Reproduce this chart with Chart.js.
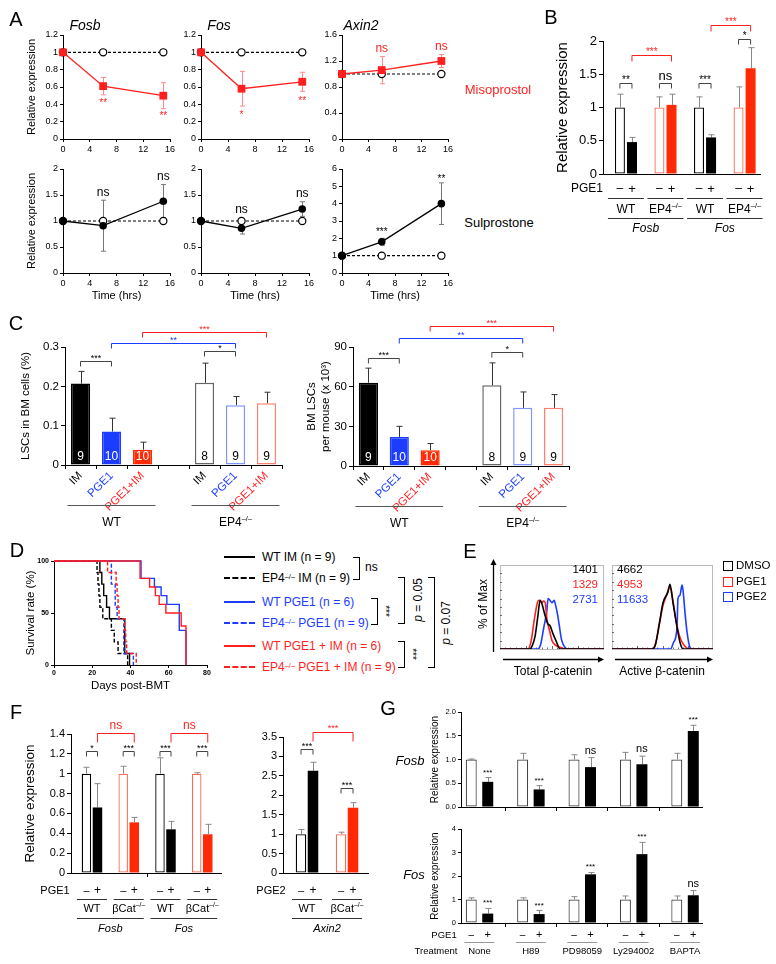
<!DOCTYPE html>
<html>
<head>
<meta charset="utf-8">
<script src="https://cdn.jsdelivr.net/npm/chart.js@4.4.1/dist/chart.umd.min.js"></script>
<style>
  body { margin: 0; background: #fff; }
  #fig { position: relative; width: 776px; height: 964px; overflow: hidden; font-family: 'Liberation Sans', Arial, sans-serif; color: #000; }
  canvas { position: absolute; }
  .t { position: absolute; white-space: nowrap; line-height: 1; transform: translate(-50%, -50%); }
  sup { font-size: 0.62em; vertical-align: 0.45em; line-height: 0; }
  .br { position: absolute; border: 1.5px solid #000; border-left: none; box-sizing: border-box; }
</style>
</head>
<body>
<div id="fig"></div>
<script>
// ---- data ----
// A: time course (hrs), relative expression
const hours = [0, 6, 15];
const ctrlA = [1, 1, 1];
const misoFosb = [1, 0.61, 0.5],   misoFosbErr = [0, 0.1, 0.15];
const misoFos = [1, 0.58, 0.66],   misoFosErr = [0, 0.2, 0.11];
const misoAxin2 = [1, 1.06, 1.2],  misoAxin2Err = [0, 0.21, 0.1];
const sulFosb = [1, 0.91, 1.38],   sulFosbErr = [0, 0.49, 0.32];
const sulFos = [1, 0.86, 1.23],    sulFosErr = [0, 0.11, 0.14];
const sulAxin2 = [1, 1.8, 4.0],    sulAxin2Err = [0, 0.2, 1.2];

// B
const bGroups = ['WT', 'EP4^{–/–}', 'WT', 'EP4^{–/–}'];
const bGenes = ['Fosb', 'Fos'];
const bVehicle = [1, 1, 1, 1],        bVehicleErr = [0.2, 0.16, 0.16, 0.31];
const bPGE1 = [0.48, 1.04, 0.55, 1.59], bPGE1Err = [0.07, 0.16, 0.04, 0.31];

// C
const cLabels = ['IM', 'PGE1', 'PGE1+IM', '', 'IM', 'PGE1', 'PGE1+IM'];
const cGroups = ['WT', 'EP4^{–/–}'];
const cFreq = [0.207, 0.085, 0.039, null, 0.209, 0.152, 0.157];
const cFreqErr = [0.031, 0.034, 0.019, null, 0.05, 0.022, 0.028];
const cCount = [63, 22, 12, null, 61, 44, 44];
const cCountErr = [11, 8, 5, null, 17, 12, 10];
const cMice = [9, 10, 10, null, 8, 9, 9];

// D: Kaplan-Meier steps (days post-BMT, % survival)
const dNames = ['WT IM (n = 9)', 'EP4^{–/–} IM (n = 9)', 'WT PGE1 (n = 6)', 'EP4^{–/–} PGE1 (n = 9)', 'WT PGE1 + IM (n = 6)', 'EP4^{–/–} PGE1 + IM (n = 9)'];
const wtImDays = [0, 24, 25, 26, 27.5, 29, 37, 39.5];
const wtImSurv = [100, 88.9, 77.8, 66.7, 55.6, 44.4, 11.1, 0];
const ep4ImDays = [0, 22.5, 23, 23.5, 24, 25.5, 30, 31.5, 33.5, 38.5];
const ep4ImSurv = [100, 88.9, 77.8, 66.7, 55.6, 44.4, 33.3, 22.2, 11.1, 0];
const wtPge1Days = [0, 45.5, 52.5, 56, 59, 65.5, 69];
const wtPge1Surv = [100, 83.3, 75, 66.7, 58.3, 33.3, 0];
const ep4Pge1Days = [0, 30, 32, 33, 36.5, 41.5];
const ep4Pge1Surv = [100, 77.8, 55.6, 44.4, 11.1, 0];
const wtPgeImDays = [0, 45, 50, 53, 55, 58.5, 66.5, 69];
const wtPgeImSurv = [100, 83.3, 75, 66.7, 58.3, 50, 37.5, 0];
const ep4PgeImDays = [0, 28, 32.5, 33, 33.5, 34, 37, 37.5, 38, 43];
const ep4PgeImSurv = [100, 88.9, 77.8, 66.7, 55.6, 44.4, 33.3, 22.2, 11.1, 0];

// E: flow histograms (channel 0-100, % of max)
const totalDmsoX = [0, 28.8, 31, 33.7, 36.5, 38.5, 40, 43.3, 46, 48, 51, 53.8, 57.7, 100];
const totalDmsoY = [0, 0, 4, 15, 40, 58, 55, 40, 30, 28, 18, 10, 0, 0];
const totalPge1X = [0, 26.9, 30, 33, 36.5, 38, 40, 42, 43.5, 45.2, 48, 50, 53, 58, 64.4, 100];
const totalPge1Y = [0, 0, 10, 35, 57, 58, 55, 57, 55, 35, 20, 10, 5, 2, 0, 0];
const totalPge2X = [0, 36.5, 39, 42, 45, 46.2, 48, 50, 52, 53.5, 55.5, 57, 59, 61, 65, 100];
const totalPge2Y = [0, 0, 5, 25, 45, 60, 58, 55, 58, 52, 40, 28, 12, 5, 0, 0];
const activeDmsoX = [0, 40.3, 43, 47.5, 50.5, 55.4, 57.4, 60.4, 64.4, 67.3, 70.3, 100];
const activeDmsoY = [0, 0, 5, 35, 55, 68, 77, 55, 26, 8, 0, 0];
const activePge1X = [0, 39.6, 43, 47, 50.5, 54, 57.4, 60, 64, 67, 71, 77, 100];
const activePge1Y = [0, 0, 6, 30, 52, 64, 74, 60, 30, 15, 5, 0, 0];
const activePge2X = [0, 58, 61, 64.4, 65.3, 67.3, 69.3, 70.3, 72.3, 74.3, 77.2, 80, 100];
const activePge2Y = [0, 0, 8, 26, 60, 64, 76, 70, 43, 20, 2, 0, 0];
const eMfi = [['1401', '1329', '2731'], ['4662', '4953', '11633']];
const eTreat = ['DMSO', 'PGE1', 'PGE2'];

// F
const fGroups = ['WT', 'βCat^{–/–}', 'WT', 'βCat^{–/–}'];
const fVehicle = [1, 1, 1, 1],          fVehicleErr = [0.065, 0.075, 0.16, 0.01];
const fPGE1 = [0.66, 0.51, 0.44, 0.39], fPGE1Err = [0.24, 0.05, 0.08, 0.1];
const axVehicle = [1, 1],    axVehicleErr = [0.12, 0.05];
const axPGE2 = [2.63, 1.68], axPGE2Err = [0.22, 0.13];

// G
const gTreatments = ['None', 'H89', 'PD98059', 'Ly294002', 'BAPTA'];
const gFosbCtrl = [1, 1, 1, 1, 1],           gFosbCtrlErr = [0.01, 0.13, 0.1, 0.15, 0.13];
const gFosbPGE1 = [0.53, 0.37, 0.84, 0.9, 1.6], gFosbPGE1Err = [0.09, 0.08, 0.2, 0.17, 0.12];
const gFosCtrl = [1, 1, 1, 1, 1],            gFosCtrlErr = [0.07, 0.07, 0.12, 0.15, 0.15];
const gFosPGE1 = [0.4, 0.38, 2.07, 2.93, 1.18], gFosPGE1Err = [0.22, 0.15, 0.08, 0.5, 0.2];

// ---- look ----
const FONT = "'Liberation Sans', Arial, sans-serif";
const RED = '#ff1f1f', RED_F = '#ff2a05', RED_E = '#ff6a55', BLUE = '#1c3cff';
Chart.defaults.font.family = FONT;
Chart.defaults.color = '#000';

const fig = document.getElementById('fig');
const trim = v => String(Math.round(v * 100) / 100);
const pts = (xs, ys) => xs.map((x, i) => ({x, y: ys[i]}));
const idx = ys => ys.map((y, i) => ({x: i, y}));
const sup = s => s.replace(/\^\{([^}]*)\}/g, '<sup>$1</sup>');

function txt(x, y, s, css) {
    const d = document.createElement('div');
    d.className = 't';
    d.innerHTML = sup(s);
    d.style.left = x + 'px';
    d.style.top = y + 'px';
    Object.assign(d.style, css || {});
    fig.appendChild(d);
    return d;
}

function richText(ctx, str, x, y, size, color, style, align) {
    const parts = [];
    const re = /\^\{([^}]*)\}/g;
    let last = 0, m;
    while ((m = re.exec(str))) {
        if (m.index > last) parts.push({t: str.slice(last, m.index)});
        parts.push({t: m[1], sup: true});
        last = re.lastIndex;
    }
    if (last < str.length) parts.push({t: str.slice(last)});
    const f = s => `${style || 'normal'} ${s}px ${FONT}`;
    let w = 0;
    parts.forEach(p => { ctx.font = f(p.sup ? size * 0.62 : size); p.w = ctx.measureText(p.t).width; w += p.w; });
    let cx = align === 'left' ? x : align === 'right' ? x - w : x - w / 2;
    ctx.save();
    ctx.fillStyle = color;
    ctx.textAlign = 'left';
    ctx.textBaseline = 'middle';
    parts.forEach(p => {
        ctx.font = f(p.sup ? size * 0.62 : size);
        ctx.fillText(p.t, cx, p.sup ? y - size * 0.32 : y);
        cx += p.w;
    });
    ctx.restore();
}

function label(ctx, text, x, y, o) {
    const size = o.size || 11;
    if (/^\*+$/.test(text)) y += size * 0.22;
    richText(ctx, text, x, y, size, o.color || '#000', o.style, o.align);
}

const valOf = raw => (raw != null && typeof raw === 'object') ? raw.y : raw;

function ax(chart, a) {
    if (Array.isArray(a)) return chart.getDatasetMeta(a[0]).data[a[1]].x;
    return chart.scales.x.getPixelForValue(a);
}

// error bars: upper only for bars, both ways for points
const errPlugin = {
    id: 'errs',
    beforeDatasetsDraw(chart) {
        const ctx = chart.ctx, ys = chart.scales.y;
        chart.data.datasets.forEach((ds, di) => {
            if (!ds.errs) return;
            chart.getDatasetMeta(di).data.forEach((el, i) => {
                const e = ds.errs[i], v = valOf(ds.data[i]);
                if (!e || v == null) return;
                const x = Math.round(el.x) + 0.5;
                const y1 = ys.getPixelForValue(v + e);
                const y0 = ys.getPixelForValue(ds.errBoth ? v - e : v);
                const c = ds.errCap || 3;
                ctx.save();
                ctx.strokeStyle = ds.errColor || '#777';
                ctx.lineWidth = 1;
                ctx.beginPath();
                ctx.moveTo(x, y0); ctx.lineTo(x, y1);
                ctx.moveTo(x - c, y1); ctx.lineTo(x + c, y1);
                if (ds.errBoth) { ctx.moveTo(x - c, y0); ctx.lineTo(x + c, y0); }
                ctx.stroke();
                ctx.restore();
            });
        });
    }
};

// mouse numbers at the foot of bars
const countPlugin = {
    id: 'counts',
    afterDatasetsDraw(chart) {
        chart.data.datasets.forEach((ds, di) => {
            if (!ds.counts) return;
            chart.getDatasetMeta(di).data.forEach((el, i) => {
                if (ds.counts[i] == null) return;
                richText(chart.ctx, String(ds.counts[i]), el.x, el.base - 8, 12, ds.countColors[i]);
            });
        });
    }
};
Chart.register(errPlugin, countPlugin);

// brackets, star labels and the rows written under an axis
function annot(items) {
    return {
        id: 'annot',
        afterDraw(chart) {
            const ctx = chart.ctx, ys = chart.scales.y, ca = chart.chartArea;
            for (const it of items) {
                if (it.br) {
                    const xa = ax(chart, it.br[0]), xb = ax(chart, it.br[1]);
                    const py = Math.round(ys.getPixelForValue(it.y)) + 0.5, leg = it.leg || 5;
                    ctx.save();
                    ctx.strokeStyle = it.line || it.color || '#444';
                    ctx.lineWidth = 1;
                    ctx.beginPath();
                    ctx.moveTo(xa, py + leg); ctx.lineTo(xa, py); ctx.lineTo(xb, py); ctx.lineTo(xb, py + leg);
                    ctx.stroke();
                    ctx.restore();
                    label(ctx, it.text, (xa + xb) / 2, py - (it.gap || 5), it);
                } else if (it.lab) {
                    const ds = chart.data.datasets[it.lab[0]];
                    const v = valOf(ds.data[it.lab[1]]), e = ds.errs ? ds.errs[it.lab[1]] : 0;
                    const gap = it.gap || 7;
                    const y = it.pos === 'below'
                        ? ys.getPixelForValue(ds.errBoth ? v - e : v) + gap
                        : ys.getPixelForValue(v + e) - gap;
                    label(ctx, it.text, ax(chart, it.lab), y, it);
                } else if (it.ul) {
                    const x1 = ax(chart, it.ul[0]) - it.ext, x2 = ax(chart, it.ul[1]) + it.ext;
                    const y = Math.round(ca.bottom + it.dy) + 0.5;
                    ctx.save();
                    ctx.strokeStyle = it.color || '#333';
                    ctx.lineWidth = 1;
                    ctx.beginPath(); ctx.moveTo(x1, y); ctx.lineTo(x2, y); ctx.stroke();
                    ctx.restore();
                } else {
                    const x = it.px != null ? ca.left + it.px : ax(chart, it.u);
                    label(ctx, it.text, x, ca.bottom + it.dy, it);
                }
            }
        }
    };
}

// canvas placed so that the plot area lands on rect [x0, y0, x1, y1]
function mk(rect, m, cfg) {
    const [x0, y0, x1, y1] = rect;
    const W = Math.round(x1 - x0 + m.l + m.r), H = Math.round(y1 - y0 + m.t + m.b);
    const c = document.createElement('canvas');
    c.width = W; c.height = H;
    c.style.left = (x0 - m.l) + 'px';
    c.style.top = (y0 - m.t) + 'px';
    c.style.width = W + 'px';
    c.style.height = H + 'px';
    fig.appendChild(c);
    const o = cfg.options;
    o.responsive = false;
    o.animation = false;
    o.devicePixelRatio = 1;
    o.layout = {padding: {top: m.t, right: m.r, left: 0, bottom: 0}};
    o.scales.x.afterFit = s => { s.height = m.b; };
    o.scales.y.afterFit = s => { s.width = m.l; };
    o.plugins = Object.assign({legend: {display: false}, tooltip: {enabled: false}}, o.plugins || {});
    return new Chart(c, cfg);
}

function yAx(min, max, step, size, title, o = {}) {
    return {
        min, max,
        ticks: {stepSize: step, font: {size, weight: o.bold ? 'bold' : 'normal'}, color: '#000', padding: o.pad ?? 2, callback: o.fmt || trim},
        grid: {drawOnChartArea: false, tickLength: o.tick ?? 3, color: '#000'},
        border: {color: '#000'},
        title: title
            ? {display: true, text: title[0], font: {size: title[1]}, color: '#000', padding: {top: title[2], bottom: 0}}
            : {display: false}
    };
}

function xGrp(min, max, tickVals, showTicks) {
    return {
        type: 'linear', min, max, offset: false,
        afterBuildTicks: s => { s.ticks = tickVals.map(value => ({value})); },
        ticks: {display: false},
        grid: {display: showTicks, offset: false, drawOnChartArea: false, tickLength: 4, color: '#000'},
        border: {color: '#000'}
    };
}

// ---- A ----
function aChart(rect, m, treat, err, ymax, step, miso, marks, gaps, xTitle, yTitle) {
    const col = miso ? RED : '#000';
    const items = marks.map((t, k) => ({
        lab: [0, k + 1], text: t, color: col,
        pos: miso && t !== 'ns' ? 'below' : 'above',
        gap: gaps[k],
        size: t === 'ns' ? 12 : 10
    }));
    return mk(rect, m, {
        type: 'line',
        data: {datasets: [
            {data: pts(hours, treat), borderColor: col, borderWidth: 1.3, pointStyle: miso ? 'rect' : 'circle',
             pointRadius: miso ? 5.5 : 3.8, pointBackgroundColor: col, pointBorderColor: col, pointBorderWidth: 0,
             errs: err, errBoth: true, errColor: miso ? '#ff8a8a' : '#777', errCap: 2.5, clip: false},
            {data: pts(hours, ctrlA), borderColor: '#000', borderWidth: 1.2, borderDash: [3, 2], pointRadius: 3.6,
             pointBackgroundColor: '#fff', pointBorderColor: '#000', pointBorderWidth: 1.2, clip: false}
        ]},
        options: {scales: {
            x: {type: 'linear', min: 0, max: 16,
                ticks: {stepSize: 4, font: {size: 9}, color: '#000', padding: 2},
                grid: {drawOnChartArea: false, tickLength: 3, color: '#000'}, border: {color: '#000'},
                title: {display: !!xTitle, text: 'Time (hrs)', font: {size: 11}, color: '#000', padding: 0}},
            y: yAx(0, ymax, step, 9, yTitle ? ['Relative expression', 11, 2.4] : null)
        }},
        plugins: [annot(items)]
    });
}
aChart([63, 35, 170, 139], {l: 40, t: 14, r: 8, b: 16}, misoFosb, misoFosbErr, 1.2, 0.2, true, ['**', '**'], [6, 5], false, true);
aChart([201, 35, 309, 139], {l: 30, t: 14, r: 8, b: 16}, misoFos, misoFosErr, 1.2, 0.2, true, ['*', '**'], [7, 8], false, false);
aChart([342, 35, 448, 139], {l: 30, t: 14, r: 8, b: 16}, misoAxin2, misoAxin2Err, 1.6, 0.2, true, ['ns', 'ns'], [8, 8], false, false);
aChart([63, 169, 170, 273], {l: 40, t: 14, r: 8, b: 30}, sulFosb, sulFosbErr, 2, 0.5, false, ['ns', 'ns'], [8, 8], true, true);
aChart([201, 169, 309, 273], {l: 30, t: 14, r: 8, b: 30}, sulFos, sulFosErr, 2, 0.5, false, ['ns', 'ns'], [13, 8], true, false);
aChart([342, 169, 448, 273], {l: 30, t: 14, r: 8, b: 30}, sulAxin2, sulAxin2Err, 6, 1, false, ['***', '**'], [8, 6], true, false);
txt(85, 25, 'Fosb', {fontSize: '14px', fontStyle: 'italic'});
txt(219, 25, 'Fos', {fontSize: '14px', fontStyle: 'italic'});
txt(361, 25, 'Axin2', {fontSize: '14px', fontStyle: 'italic'});
txt(498, 89, 'Misoprostol', {fontSize: '13px', color: RED});
txt(499, 222, 'Sulprostone', {fontSize: '13px'});

// ---- B ----
function pairRows(groups, genes, o) {
    const rows = [{px: o.px, dy: o.d1, text: o.agent, size: o.size}];
    groups.forEach((g, i) => {
        rows.push({u: [0, i], dy: o.d1, text: '–', size: o.size});
        rows.push({u: [1, i], dy: o.d1, text: '+', size: o.size + 1});
        rows.push({ul: [i, i], ext: o.ext, dy: o.d2});
        rows.push({u: i, dy: o.d3, text: g, size: o.size});
    });
    genes.forEach((g, k) => {
        rows.push({ul: [2 * k, 2 * k + 1], ext: o.ext, dy: o.d4});
        rows.push({u: 2 * k + 0.5, dy: o.d5, text: g, size: o.size, style: 'italic'});
    });
    return rows;
}
mk([603, 41, 760, 174], {l: 50, t: 32, r: 10, b: 62}, {
    type: 'bar',
    data: {datasets: [
        {data: idx(bVehicle), backgroundColor: '#fff', borderColor: ['#000', RED_E, '#000', RED_E], borderWidth: 1.3,
         borderSkipped: false, categoryPercentage: 0.61, barPercentage: 0.83, errs: bVehicleErr, errColor: '#888'},
        {data: idx(bPGE1), backgroundColor: ['#000', RED_F, '#000', RED_F], borderWidth: 0,
         categoryPercentage: 0.61, barPercentage: 0.83, errs: bPGE1Err, errColor: '#888'}
    ]},
    options: {scales: {x: xGrp(-0.58, 3.39, [0, 1, 2, 3], false), y: yAx(0, 2, 0.5, 13, ['Relative expression', 15, 1], {tick: 4})}},
    plugins: [annot([
        {br: [[0, 0], [1, 0]], y: 1.37, text: '**', size: 10},
        {br: [[0, 1], [1, 1]], y: 1.37, text: 'ns', size: 13, gap: 7},
        {br: [[0, 2], [1, 2]], y: 1.37, text: '***', size: 10},
        {br: [[0, 3], [1, 3]], y: 2.03, text: '*', size: 10},
        {br: [[1, 0], [1, 1]], y: 1.79, text: '***', size: 10, color: RED, leg: 6},
        {br: [[1, 2], [1, 3]], y: 2.24, text: '***', size: 10, color: RED, leg: 6},
        ...pairRows(bGroups, bGenes, {agent: 'PGE1', px: -16, size: 12, ext: 18, d1: 15, d2: 24, d3: 36, d4: 44, d5: 55})
    ])]
});

// ---- C ----
function cChart(rect, m, vals, errs, max, step, title, brY, fmt) {
    return mk(rect, m, {
        type: 'bar',
        data: {labels: cLabels, datasets: [{
            data: vals,
            backgroundColor: ['#000', BLUE, RED_F, null, '#fff', '#fff', '#fff'],
            borderColor: ['#000', BLUE, RED_F, null, '#666', '#7f95ff', '#ff8070'],
            borderWidth: 1.5, borderSkipped: false, categoryPercentage: 1, barPercentage: 0.62,
            errs, errColor: '#333', counts: cMice, countColors: ['#fff', '#fff', '#fff', null, '#000', '#000', '#000']
        }]},
        options: {scales: {
            x: {ticks: {minRotation: 45, maxRotation: 45, autoSkip: false, font: {size: 11.5}, padding: 0,
                        color: c => ['#000', BLUE, RED][c.index % 4 === 3 ? 0 : (c.index > 3 ? c.index - 4 : c.index)]},
                grid: {drawOnChartArea: false, offset: true, tickLength: 4, color: '#000'}, border: {color: '#000'}},
            y: yAx(0, max, step, 11.5, title, {tick: 4, fmt})
        }},
        plugins: [annot([
            {br: [0, 1], y: brY[0], text: '***', size: 9},
            {br: [1, 5], y: brY[1], text: '**', size: 9, color: BLUE},
            {br: [2, 6], y: brY[2], text: '***', size: 9, color: RED},
            {br: [4, 5], y: brY[3], text: '*', size: 9},
            {ul: [0, 2], ext: 13, dy: 40, color: '#555'},
            {u: 1, dy: 58, text: cGroups[0], size: 12},
            {ul: [4, 6], ext: 13, dy: 40, color: '#555'},
            {u: 5, dy: 58, text: cGroups[1], size: 12}
        ])]
    });
}
cChart([65, 347, 282, 465], {l: 48, t: 28, r: 6, b: 66}, cFreq, cFreqErr, 0.3, 0.1,
       ['LSCs in BM cells (%)', 11.5, 2.1], [0.264, 0.31, 0.338, 0.29]);
cChart([353, 347, 569, 466], {l: 50, t: 28, r: 6, b: 66}, cCount, cCountErr, 90, 30,
       [['BM LSCs', 'per mouse (x 10³)'], 11.5, 2.1], [82, 97, 106, 86]);

// ---- D ----
const dDays = [wtImDays, ep4ImDays, wtPge1Days, ep4Pge1Days, wtPgeImDays, ep4PgeImDays];
const dSurv = [wtImSurv, ep4ImSurv, wtPge1Surv, ep4Pge1Surv, wtPgeImSurv, ep4PgeImSurv];
const dColors = ['#000', '#000', BLUE, BLUE, RED, RED];
mk([54, 561, 207, 665], {l: 35, t: 8, r: 8, b: 28}, {
    type: 'line',
    data: {datasets: dNames.map((n, i) => ({
        label: n, data: pts(dDays[i], dSurv[i]), stepped: true, borderColor: dColors[i],
        borderWidth: 1.4, borderDash: i % 2 ? [4, 2] : [], pointRadius: 0, clip: false
    })).reverse()},
    options: {scales: {
        x: {type: 'linear', min: 0, max: 80, ticks: {stepSize: 20, font: {size: 7, weight: 'bold'}, color: '#000', padding: 1},
            grid: {drawOnChartArea: false, tickLength: 3, color: '#000'}, border: {color: '#000'},
            title: {display: true, text: 'Days post-BMT', font: {size: 11.5}, color: '#000', padding: 0}},
        y: yAx(0, 100, 50, 7, ['Survival rate (%)', 11.5, 5], {bold: true})
    }}
});
const dRows = [557, 578, 602, 623, 646, 667];
dNames.forEach((n, i) => {
    const ln = document.createElement('div');
    Object.assign(ln.style, {position: 'absolute', left: '224px', width: '31px', top: (dRows[i] - 1) + 'px',
        borderTop: `2px ${i % 2 ? 'dashed' : 'solid'} ${dColors[i]}`});
    fig.appendChild(ln);
    txt(262, dRows[i], n, {fontSize: '12px', color: dColors[i], transform: 'translate(0,-50%)'});
});
function vbr(x, y0, y1) {
    const d = document.createElement('div');
    d.className = 'br';
    Object.assign(d.style, {left: (x - 6) + 'px', top: y0 + 'px', width: '7px', height: (y1 - y0) + 'px'});
    fig.appendChild(d);
}
vbr(359, 557, 580); txt(365, 567, 'ns', {fontSize: '12px', transform: 'translate(0,-50%)'});
vbr(377, 598, 625); txt(385, 611, '***', {fontSize: '10px', transform: 'translate(-50%,-50%) rotate(90deg)'});
vbr(404, 641, 668); txt(412, 654, '***', {fontSize: '10px', transform: 'translate(-50%,-50%) rotate(90deg)'});
vbr(404, 577, 624); txt(418, 600, '<i>p</i> = 0.05', {fontSize: '12px', transform: 'translate(-50%,-50%) rotate(-90deg)'});
vbr(434, 577, 668); txt(446, 623, '<i>p</i> = 0.07', {fontSize: '12px', transform: 'translate(-50%,-50%) rotate(-90deg)'});

// ---- E ----
function frame(first) {
    return {
        id: 'frame',
        beforeDatasetsDraw(chart) {
            const ctx = chart.ctx, a = chart.chartArea;
            ctx.save();
            ctx.strokeStyle = '#bbb'; ctx.lineWidth = 1;
            ctx.strokeRect(a.left + 0.5, a.top + 0.5, a.right - a.left - 1, a.bottom - a.top);
            ctx.strokeStyle = '#666';
            ctx.beginPath();
            for (let k = 1; k < 10; k++) {
                const y = Math.round(a.top + (a.bottom - a.top) * k / 10) + 0.5;
                ctx.moveTo(a.left, y); ctx.lineTo(a.left + 2, y);
            }
            for (let k = 1; k < 20; k++) {
                const x = Math.round(a.left + (a.right - a.left) * k / 20) + 0.5;
                ctx.moveTo(x, a.bottom); ctx.lineTo(x, a.bottom - (k % 5 ? 1.5 : 3));
            }
            ctx.stroke();
            ctx.restore();
        },
        afterDraw(chart) {
            const ctx = chart.ctx, a = chart.chartArea;
            ctx.save();
            ctx.strokeStyle = '#000'; ctx.fillStyle = '#000'; ctx.lineWidth = 1.3;
            const y = a.bottom + 10.5;
            ctx.beginPath(); ctx.moveTo(a.left + 3, y); ctx.lineTo(a.right - 4, y); ctx.stroke();
            ctx.beginPath(); ctx.moveTo(a.right, y); ctx.lineTo(a.right - 6, y - 3); ctx.lineTo(a.right - 6, y + 3); ctx.fill();
            if (first) {
                const x = a.left - 6.5;
                ctx.beginPath(); ctx.moveTo(x, a.bottom + 3); ctx.lineTo(x, a.top - 2); ctx.stroke();
                ctx.beginPath(); ctx.moveTo(x, a.top - 6); ctx.lineTo(x - 3, a.top); ctx.lineTo(x + 3, a.top); ctx.fill();
            }
            ctx.restore();
        }
    };
}
function eChart(rect, m, xs, ys, first) {
    const cols = ['#000', RED, BLUE];
    return mk(rect, m, {
        type: 'line',
        data: {datasets: xs.map((x, i) => ({
            data: pts(x, ys[i]), borderColor: cols[i], borderWidth: 1.6, pointRadius: 0,
            cubicInterpolationMode: 'monotone'
        }))},
        options: {scales: {
            x: {type: 'linear', min: 0, max: 100, ticks: {display: false}, grid: {display: false}, border: {display: false}},
            y: {min: 0, max: 100, ticks: {display: false}, grid: {display: false}, border: {display: false}}
        }},
        plugins: [frame(first)]
    });
}
eChart([500, 565, 604, 649], {l: 25, t: 8, r: 2, b: 18},
       [totalDmsoX, totalPge1X, totalPge2X], [totalDmsoY, totalPge1Y, totalPge2Y], true);
eChart([612, 565, 713, 649], {l: 2, t: 8, r: 8, b: 18},
       [activeDmsoX, activePge1X, activePge2X], [activeDmsoY, activePge1Y, activePge2Y], false);
const eCols = ['#000', RED, BLUE];
eMfi[0].forEach((v, i) => txt(598, 570 + i * 15, v, {fontSize: '11.5px', color: eCols[i], transform: 'translate(-100%,-50%)'}));
eMfi[1].forEach((v, i) => txt(617, 570 + i * 15, v, {fontSize: '11.5px', color: eCols[i], transform: 'translate(0,-50%)'}));
txt(483, 604, '% of Max', {fontSize: '12px', transform: 'translate(-50%,-50%) rotate(-90deg)'});
txt(553, 671, 'Total β-catenin', {fontSize: '12px'});
txt(662, 671, 'Active β-catenin', {fontSize: '12px'});
eTreat.forEach((n, i) => {
    const b = document.createElement('div');
    Object.assign(b.style, {position: 'absolute', left: '723px', top: (561 + i * 15.5) + 'px', width: '10px', height: '10px',
        border: `1.8px solid ${eCols[i]}`, boxSizing: 'border-box'});
    fig.appendChild(b);
    txt(736, 566 + i * 15.5, n, {fontSize: '11.5px', transform: 'translate(0,-50%)'});
});

// ---- F ----
function fBars(vehicle, vErr, treated, tErr, cat, bar) {
    return [
        {data: idx(vehicle), backgroundColor: '#fff', borderColor: vehicle.map((v, i) => i % 2 ? RED_E : '#000'), borderWidth: 1.3,
         borderSkipped: false, categoryPercentage: cat, barPercentage: bar, errs: vErr, errColor: '#888'},
        {data: idx(treated), backgroundColor: treated.map((v, i) => i % 2 ? RED_F : '#000'), borderWidth: 0,
         categoryPercentage: cat, barPercentage: bar, errs: tErr, errColor: '#888'}
    ];
}
mk([71, 733.5, 221, 872], {l: 50, t: 26, r: 6, b: 64}, {
    type: 'bar',
    data: {datasets: fBars(fVehicle, fVehicleErr, fPGE1, fPGE1Err, 0.6, 0.86)},
    options: {scales: {x: xGrp(-0.57, 3.51, [1.5], true), y: yAx(0, 1.4, 0.2, 11, ['Relative expression', 13.5, 0.9], {tick: 4})}},
    plugins: [annot([
        {br: [[0, 0], [1, 0]], y: 1.23, text: '*', size: 9},
        {br: [[0, 1], [1, 1]], y: 1.23, text: '***', size: 9},
        {br: [[0, 2], [1, 2]], y: 1.23, text: '***', size: 9},
        {br: [[0, 3], [1, 3]], y: 1.23, text: '***', size: 9},
        {br: [[1, 0], [1, 1]], y: 1.415, text: 'ns', size: 12, color: RED, leg: 9, gap: 8},
        {br: [[1, 2], [1, 3]], y: 1.415, text: 'ns', size: 12, color: RED, leg: 9, gap: 8},
        ...pairRows(fGroups, ['Fosb', 'Fos'], {agent: 'PGE1', px: -16, size: 11, ext: 15, d1: 18, d2: 26, d3: 36, d4: 45, d5: 56})
    ])]
});
mk([283, 736.5, 368, 872], {l: 40, t: 28, r: 8, b: 64}, {
    type: 'bar',
    data: {datasets: fBars(axVehicle, axVehicleErr, axPGE2, axPGE2Err, 0.6, 0.88)},
    options: {scales: {x: xGrp(-0.6, 1.525, [0, 1], false), y: yAx(0, 3.5, 0.5, 11, null, {tick: 4})}},
    plugins: [annot([
        {br: [[0, 0], [1, 0]], y: 3.18, text: '***', size: 9},
        {br: [[0, 1], [1, 1]], y: 2.18, text: '***', size: 9},
        {br: [[1, 0], [1, 1]], y: 3.62, text: '***', size: 9, color: RED, leg: 9, gap: 6},
        ...pairRows(['WT', 'βCat^{–/–}'], ['Axin2'], {agent: 'PGE2', px: -12, size: 11, ext: 15, d1: 18, d2: 26, d3: 36, d4: 45, d5: 56})
    ])]
});

// ---- G ----
function gChart(rect, m, ctrl, cErr, treated, tErr, max, step, fmt, tpad, marks, under) {
    const items = marks.map((t, i) => ({lab: [1, i], text: t, pos: 'above', gap: 7, size: t === 'ns' ? 11 : 8}));
    if (under) {
        items.push({px: -17, dy: 12, text: 'PGE1', size: 9.5}, {px: -25, dy: 28, text: 'Treatment', size: 9.5});
        gTreatments.forEach((n, i) => items.push(
            {u: [0, i], dy: 12, text: '–', size: 10}, {u: [1, i], dy: 12, text: '+', size: 11},
            {ul: [i, i], ext: 15, dy: 19, color: '#999'}, {u: i, dy: 28, text: n, size: 9.5}));
    }
    return mk(rect, m, {
        type: 'bar',
        data: {datasets: [
            {data: idx(ctrl), backgroundColor: '#fff', borderColor: '#444', borderWidth: 1.2, borderSkipped: false,
             categoryPercentage: 0.642, barPercentage: 0.667, errs: cErr, errColor: '#888'},
            {data: idx(treated), backgroundColor: '#000', borderWidth: 0,
             categoryPercentage: 0.642, barPercentage: 0.667, errs: tErr, errColor: '#888'}
        ]},
        options: {scales: {x: xGrp(-0.36, 4.33, [0.5, 1.5, 2.5, 3.5], true),
                           y: yAx(0, max, step, 7.5, ['Relative expression', 10, tpad], {fmt})}},
        plugins: [annot(items)]
    });
}
gChart([461, 712, 702, 807], {l: 50, t: 12, r: 8, b: 8}, gFosbCtrl, gFosbCtrlErr, gFosbPGE1, gFosbPGE1Err,
       2, 0.5, v => v.toFixed(1), 18, ['***', '***', 'ns', 'ns', '***'], false);
gChart([461, 829, 702, 923], {l: 50, t: 14, r: 8, b: 36}, gFosCtrl, gFosCtrlErr, gFosPGE1, gFosPGE1Err,
       4, 1, v => String(v), 18, ['***', '***', '***', '***', 'ns'], true);
txt(410, 760, 'Fosb', {fontSize: '13px', fontStyle: 'italic'});
txt(414, 874, 'Fos', {fontSize: '13px', fontStyle: 'italic'});

// ---- panel letters ----
[['A', 16, 19], ['B', 551, 17], ['C', 16, 323], ['D', 17, 550], ['E', 470, 551], ['F', 16, 712], ['G', 388, 708]]
    .forEach(([s, x, y]) => txt(x, y, s, {fontSize: '20px'}));
</script>
</body>
</html>
